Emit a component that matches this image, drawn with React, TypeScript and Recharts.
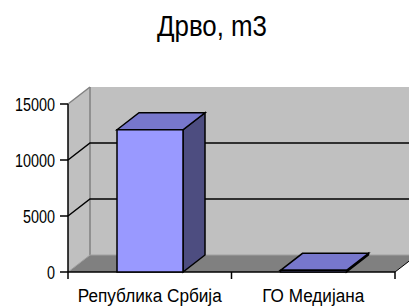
import React from 'react';
import { BarChart, Bar, XAxis, YAxis, ReferenceArea } from 'recharts';

const categories = ['Република Србија', 'ГО Медијана'];
const values = [12700, 150];
const yTicks = [0, 5000, 10000, 15000];
const gridValues = [5000, 10000];
const title = 'Дрво, m3';

const data = categories.map((name, i) => ({ name, value: values[i] }));

const DX = 22;
const DY = 17;
const FONT = '"Liberation Sans", Arial, sans-serif';
const catLabelWidths = [144, 102];

const WallShape = (props: any) => {
  const { x, y, width, height } = props;
  const x0 = x, y0 = y, xr = x + width, yb = y + height;
  const n = categories.length;
  const ticks = Array.from({ length: n + 1 }, (_, i) => x0 + (width / n) * i);
  return (
    <g>
      <rect x={x0 + DX} y={y0 - DY} width={width} height={height} fill="#C0C0C0" />
      <polygon points={`${x0},${y0} ${x0 + DX},${y0 - DY} ${x0 + DX},${yb - DY} ${x0},${yb}`} fill="#C0C0C0" />
      <polygon points={`${x0},${yb} ${x0 + DX},${yb - DY} ${xr + DX},${yb - DY} ${xr},${yb}`} fill="#808080" />
      <line x1={x0} y1={y0} x2={x0 + DX} y2={y0 - DY} stroke="#808080" strokeWidth={1.5} />
      <line x1={x0 + DX} y1={y0 - DY} x2={x0 + DX} y2={yb - DY} stroke="#808080" strokeWidth={1.5} />
      <line x1={x0} y1={yb} x2={x0 + DX} y2={yb - DY} stroke="#A0A0A0" strokeWidth={1} />
      <line x1={x0 + DX} y1={yb - DY} x2={xr + DX} y2={yb - DY} stroke="#A0A0A0" strokeWidth={1} />
      <line x1={xr} y1={yb} x2={xr + DX} y2={yb - DY} stroke="#000" strokeWidth={1} />
      <line x1={x0} y1={yb} x2={xr} y2={yb} stroke="#000" strokeWidth={1.5} />
      {ticks.map((tx, i) => (
        <line key={i} x1={tx} y1={yb} x2={tx} y2={yb + 7} stroke="#000" strokeWidth={1.5} />
      ))}
    </g>
  );
};

const GridShape = (props: any) => {
  const { x, y, width } = props;
  return (
    <polyline
      points={`${x},${y} ${x + DX},${y - DY} ${x + width + DX},${y - DY}`}
      fill="none"
      stroke="#000"
      strokeWidth={1.5}
    />
  );
};

const Bar3D = (props: any) => {
  const { x, y, width, height } = props;
  const xr = x + width;
  const yb = y + height;
  return (
    <g stroke="#000" strokeWidth={1.5} strokeLinejoin="miter">
      <polygon points={`${xr},${y} ${xr + DX},${y - DY} ${xr + DX},${yb - DY} ${xr},${yb}`} fill="#4D4D80" />
      <polygon points={`${x},${y} ${x + DX},${y - DY} ${xr + DX},${y - DY} ${xr},${y}`} fill="#7777CC" />
      <rect x={x} y={y} width={width} height={height} fill="#9999FF" />
    </g>
  );
};

const YTick = (props: any) => {
  const { x, y, payload } = props;
  const s = String(payload.value);
  return (
    <text
      x={x}
      y={y}
      dy={6.5}
      textAnchor="end"
      fontSize={18}
      fontFamily={FONT}
      fill="#000"
      textLength={s.length * 8}
      lengthAdjust="spacingAndGlyphs"
    >
      {s}
    </text>
  );
};

const XTick = (props: any) => {
  const { x, y, payload, index } = props;
  return (
    <text
      x={x}
      y={y}
      dy={30}
      textAnchor="middle"
      fontSize={18}
      fontFamily={FONT}
      fill="#000"
      textLength={catLabelWidths[index] ?? undefined}
      lengthAdjust="spacingAndGlyphs"
    >
      {payload.value}
    </text>
  );
};

export default function App() {
  return (
    <div style={{ position: 'absolute', left: 0, top: 0, width: 409, height: 307, background: '#fff' }}>
      <svg width={409} height={60} style={{ position: 'absolute', left: 0, top: 0 }}>
        <text
          x={212}
          y={36}
          textAnchor="middle"
          fontSize={29}
          fontFamily={FONT}
          fill="#000"
          textLength={110}
          lengthAdjust="spacingAndGlyphs"
        >
          {title}
        </text>
      </svg>
      <BarChart
        width={409}
        height={307}
        data={data}
        margin={{ top: 104, right: 14, bottom: 0, left: 0 }}
        style={{ position: 'absolute', left: 0, top: 0 }}
      >
        <XAxis
          dataKey="name"
          height={35}
          axisLine={false}
          tickLine={false}
          tickSize={0}
          tickMargin={0}
          tick={<XTick />}
          interval={0}
        />
        <YAxis
          width={68}
          domain={[0, 15000]}
          ticks={yTicks}
          interval={0}
          axisLine={{ stroke: '#000', strokeWidth: 1.5 }}
          tickLine={{ stroke: '#000', strokeWidth: 1.5 }}
          tickSize={8}
          tickMargin={5}
          tick={<YTick />}
        />
        <ReferenceArea y1={0} y2={15000} shape={<WallShape />} ifOverflow="visible" />
        {gridValues.map((v) => (
          <ReferenceArea key={v} y1={0} y2={v} shape={<GridShape />} ifOverflow="visible" />
        ))}
        <Bar dataKey="value" barSize={66} shape={<Bar3D />} isAnimationActive={false} />
      </BarChart>
    </div>
  );
}
